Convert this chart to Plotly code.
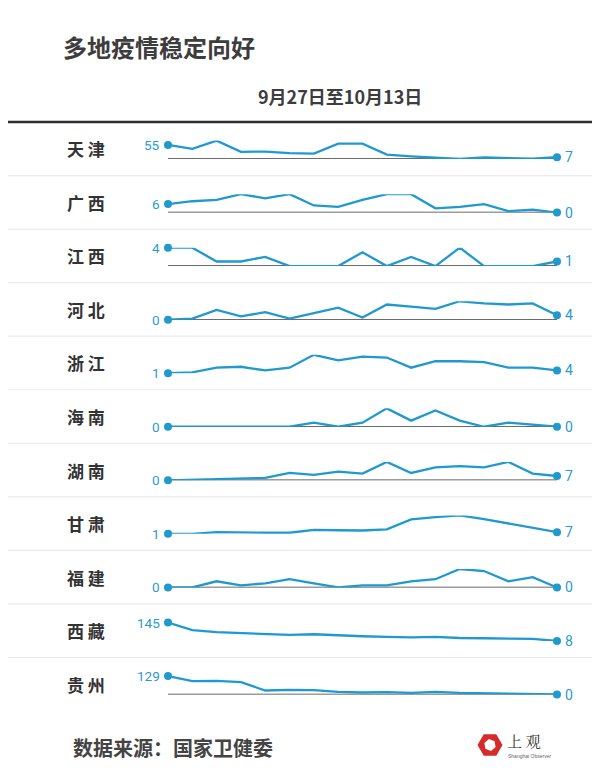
import math
import plotly.graph_objects as go

# ---------------- data ----------------
title_text = "多地疫情稳定向好"
subtitle_text = "9月27日至10月13日"
source_text = "数据来源：国家卫健委"

days = ["9月27日", "9月28日", "9月29日", "9月30日", "10月1日", "10月2日", "10月3日",
        "10月4日", "10月5日", "10月6日", "10月7日", "10月8日", "10月9日", "10月10日",
        "10月11日", "10月12日", "10月13日"]

provinces = ["天津", "广西", "江西", "河北", "浙江", "海南", "湖南", "甘肃", "福建", "西藏", "贵州"]

tianjin = [55, 40, 72, 28, 29, 23, 21, 60, 60, 17, 10, 5, 0, 6, 4, 1, 7]
guangxi = [6, 8, 9, 13, 10, 13, 5, 4, 9, 13, 13, 3, 4, 6, 1, 2, 0]
jiangxi = [4, 4, 1, 1, 2, 0, 0, 0, 3, 0, 2, 0, 4, 0, 0, 0, 1]
hebei = [0, 1, 9, 3, 7, 1, 6, 11, 2, 14, 12, 10, 17, 15, 14, 15, 4]
zhejiang = [1, 2, 7, 8, 4, 7, 21, 15, 19, 18, 7, 14, 14, 13, 7, 7, 4]
hainan = [0, 0, 0, 0, 0, 0, 2, 0, 2, 9, 3, 8, 3, 0, 2, 1, 0]
hunan = [0, 1, 3, 4, 4, 12, 9, 14, 11, 30, 12, 21, 23, 21, 30, 11, 7]
gansu = [1, 1, 7, 5, 5, 5, 15, 14, 13, 17, 53, 61, 67, 54, 38, 23, 7]
fujian = [0, 0, 3, 1, 2, 4, 2, 0, 1, 1, 3, 4, 9, 8, 3, 5, 0]
xizang = [145, 88, 73, 65, 58, 53, 58, 48, 43, 38, 35, 38, 30, 28, 25, 23, 8]
guizhou = [129, 94, 96, 87, 28, 33, 30, 19, 14, 16, 12, 19, 12, 9, 7, 5, 0]

series = [tianjin, guangxi, jiangxi, hebei, zhejiang, hainan, hunan, gansu, fujian, xizang, guizhou]

# ---------------- style / layout constants ----------------
OFF = 8                      # page body margin
W, H = 600 - OFF, 780 - OFF  # figure size so that the page fits the window
BLUE = "#2099cf"
LABEL_BLUE = "#2a9ad0"
DARK = "#3a3a3a"
SEP = "#ececec"
CJK = "Noto Sans CJK SC"
NUM = "Roboto"

TOP_LINE_Y = 122
ROW_H = 53.55
FIRST_BASE = 159
SPARK_H = 18.4
X0_PX, X1_PX = 168, 557


def px(x):
    return (x - OFF) / W


def py(y):
    return 1 - (y - OFF) / H


fig = go.Figure()
shapes = []
annotations = []

for i, (name, vals) in enumerate(zip(provinces, series)):
    k = i + 1
    yname = "y" if k == 1 else f"y{k}"
    ykey = "yaxis" if k == 1 else f"yaxis{k}"
    base = FIRST_BASE + ROW_H * i
    lo, hi = min(vals), max(vals)

    fig.add_trace(go.Scatter(
        x=days, y=vals, xaxis="x", yaxis=yname, mode="lines",
        line=dict(color=BLUE, width=2.3), cliponaxis=False,
        hoverinfo="skip", showlegend=False))
    fig.add_trace(go.Scatter(
        x=[days[0], days[-1]], y=[vals[0], vals[-1]], xaxis="x", yaxis=yname,
        mode="markers", marker=dict(color=BLUE, size=8), cliponaxis=False,
        hoverinfo="skip", showlegend=False))

    fig.layout[ykey] = dict(domain=[py(base), py(base - SPARK_H)], range=[lo, hi],
                            visible=False, fixedrange=True)

    if lo == 0:
        shapes.append(dict(type="line", xref="x", yref=yname, x0=days[0], x1=days[-1],
                           y0=0, y1=0, line=dict(color=DARK, width=1.5), layer="below"))

    annotations.append(dict(xref="x", yref=yname, x=days[0], y=vals[0], text=str(vals[0]),
                            showarrow=False, xanchor="right", yanchor="middle", xshift=-6,
                            font=dict(family=NUM, size=13.5, color=LABEL_BLUE)))
    annotations.append(dict(xref="x", yref=yname, x=days[-1], y=vals[-1], text=str(vals[-1]),
                            showarrow=False, xanchor="left", yanchor="middle", xshift=6,
                            font=dict(family=NUM, size=14, color=LABEL_BLUE)))

    center = TOP_LINE_Y + ROW_H * (i + 0.5)
    annotations.append(dict(xref="paper", yref="paper", x=px(86), y=py(center),
                            text=f"<b>{name[0]} {name[1]}</b>",
                            showarrow=False, xanchor="center", yanchor="middle",
                            font=dict(family=CJK, size=17, color="#333333")))

    if i > 0:
        sep_y = TOP_LINE_Y + ROW_H * i
        shapes.append(dict(type="line", xref="paper", yref="paper", x0=px(0), x1=px(593),
                           y0=py(sep_y), y1=py(sep_y), line=dict(color=SEP, width=1.2)))

# top thick line
shapes.append(dict(type="line", xref="paper", yref="paper", x0=px(0), x1=px(593),
                   y0=py(TOP_LINE_Y), y1=py(TOP_LINE_Y), line=dict(color="#2e2e2e", width=2.5)))

# title, subtitle, source
annotations.append(dict(xref="paper", yref="paper", x=px(61), y=py(47), text=f"<b>{title_text}</b>",
                        showarrow=False, xanchor="left", yanchor="middle",
                        font=dict(family=CJK, size=24, color="#3d3d3d")))
annotations.append(dict(xref="paper", yref="paper", x=px(256), y=py(96), text=f"<b>{subtitle_text}</b>",
                        showarrow=False, xanchor="left", yanchor="middle",
                        font=dict(family=CJK, size=18, color="#3d3d3d")))
annotations.append(dict(xref="paper", yref="paper", x=px(71), y=py(747), text=f"<b>{source_text}</b>",
                        showarrow=False, xanchor="left", yanchor="middle",
                        font=dict(family=CJK, size=20, color="#444444")))


# logo: red hexagon with white inner hexagon
def hex_path(cx, cy, r, rot):
    pts = []
    for j in range(6):
        a = math.radians(rot + 60 * j)
        pts.append((px(cx + r * math.cos(a)), py(cy + r * math.sin(a))))
    return "M " + " L ".join(f"{x:.5f},{y:.5f}" for x, y in pts) + " Z"


shapes.append(dict(type="path", xref="paper", yref="paper", path=hex_path(490, 745, 12.5, 0),
                   fillcolor="#d62b2b", line=dict(width=0)))
shapes.append(dict(type="path", xref="paper", yref="paper", path=hex_path(490, 745, 6, 20),
                   fillcolor="white", line=dict(width=0)))
annotations.append(dict(xref="paper", yref="paper", x=px(505), y=py(740), text="上 观",
                        showarrow=False, xanchor="left", yanchor="middle",
                        font=dict(family="Noto Serif CJK SC, " + CJK, size=15, color="#333333")))
annotations.append(dict(xref="paper", yref="paper", x=px(506), y=py(756), text="Shanghai Observer",
                        showarrow=False, xanchor="left", yanchor="middle",
                        font=dict(family="Liberation Sans", size=5, color="#666666")))

fig.update_layout(
    width=W, height=H,
    margin=dict(l=0, r=0, t=0, b=0),
    paper_bgcolor="white", plot_bgcolor="white",
    xaxis=dict(domain=[px(X0_PX), px(X1_PX)], type="category", range=[0, len(days) - 1],
               visible=False, fixedrange=True, anchor="y"),
    shapes=shapes, annotations=annotations,
    showlegend=False,
)

fig.write_html("out.html", config={"displayModeBar": False})
